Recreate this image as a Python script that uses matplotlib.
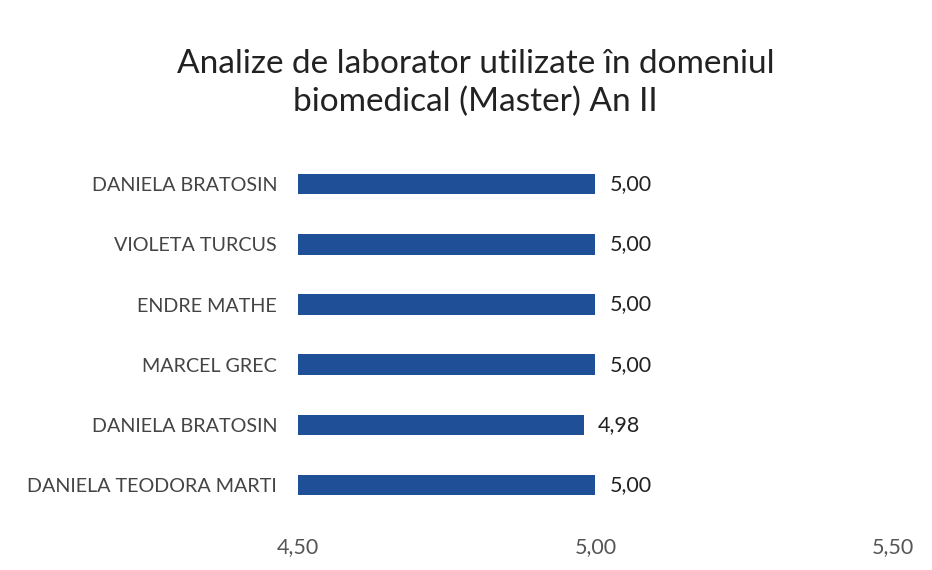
import matplotlib.pyplot as plt

plt.rcParams['font.family'] = ['Lato', 'DejaVu Sans']

names = ['DANIELA BRATOSIN', 'VIOLETA TURCUS', 'ENDRE MATHE', 'MARCEL GREC',
         'DANIELA BRATOSIN', 'DANIELA TEODORA MARTI']
scores = [5.00, 5.00, 5.00, 5.00, 4.98, 5.00]
xticks = [4.50, 5.00, 5.50]

fig = plt.figure(figsize=(9.32, 5.70), dpi=100)
ax = fig.add_axes([0.3197, 0.0965, 0.6384, 0.633])

y = list(range(len(names)))[::-1]
ax.barh(y, [s - 4.5 for s in scores], left=4.5, height=0.34, color='#1f4f96', zorder=3)

for yi, s in zip(y, scores):
    ax.text(s + 0.024, yi, f'{s:.2f}'.replace('.', ','), va='center', ha='left',
            fontsize=15.5, color='#222222')

ax.set_xlim(4.5, 5.5)
ax.set_ylim(-0.5, len(names) - 0.5)
ax.set_xticks(xticks)
ax.set_xticklabels([f'{t:.2f}'.replace('.', ',') for t in xticks], fontsize=15.5, color='#555555')
ax.set_yticks(y)
ax.set_yticklabels(names, fontsize=14.2, color='#444444')
ax.tick_params(axis='x', length=0, pad=16)
ax.tick_params(axis='y', length=0, pad=15)
for sp in ax.spines.values():
    sp.set_visible(False)

fig.text(0.51, 0.855, 'Analize de laborator utilizate în domeniul\nbiomedical (Master) An II',
         ha='center', va='center', fontsize=24, color='#222222', linespacing=1.32)

plt.savefig('out.png', dpi=100)
